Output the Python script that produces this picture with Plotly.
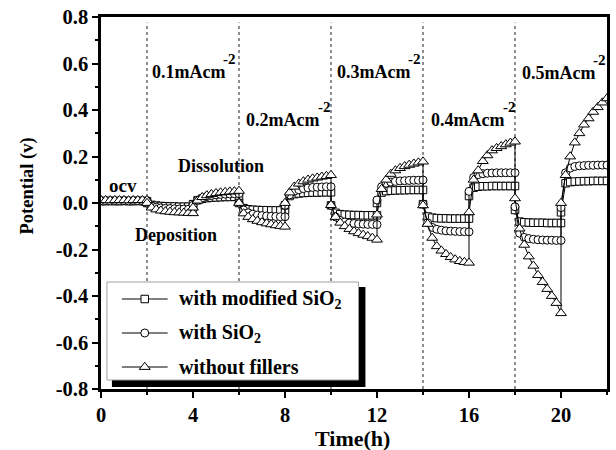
import plotly.graph_objects as go

# ---------------- data ----------------
SEGMENT_STARTS = [0, 2, 4, 6, 8, 10, 12, 14, 16, 18, 20]
STEP_OFFSETS = [0.0, 0.2, 0.4, 0.6, 0.8, 1.0, 1.2, 1.4, 1.6, 1.8, 2.0]

MODIFIED_SIO2 = [
    [0.008, 0.008, 0.009, 0.008, 0.008, 0.009, 0.008, 0.008, 0.009, 0.008, 0.008],
    [0.000, -0.008, -0.011, -0.013, -0.014, -0.015, -0.015, -0.016, -0.016, -0.016, -0.016],
    [-0.005, 0.012, 0.018, 0.021, 0.023, 0.024, 0.025, 0.026, 0.026, 0.027, 0.027],
    [0.000, -0.022, -0.027, -0.029, -0.030, -0.031, -0.031, -0.032, -0.032, -0.032, -0.032],
    [-0.010, 0.030, 0.038, 0.041, 0.043, 0.044, 0.045, 0.045, 0.046, 0.046, 0.046],
    [-0.010, -0.042, -0.048, -0.050, -0.051, -0.052, -0.052, -0.053, -0.053, -0.053, -0.053],
    [0.000, 0.045, 0.051, 0.053, 0.054, 0.055, 0.055, 0.056, 0.056, 0.056, 0.056],
    [-0.005, -0.058, -0.063, -0.065, -0.066, -0.066, -0.067, -0.067, -0.067, -0.067, -0.067],
    [0.030, 0.066, 0.070, 0.072, 0.072, 0.073, 0.073, 0.073, 0.073, 0.073, 0.073],
    [-0.030, -0.080, -0.083, -0.084, -0.085, -0.085, -0.085, -0.086, -0.086, -0.086, -0.086],
    [-0.040, 0.085, 0.090, 0.092, 0.093, 0.094, 0.094, 0.095, 0.095, 0.095, 0.095],
]

WITH_SIO2 = [
    [0.010, 0.010, 0.009, 0.010, 0.010, 0.010, 0.009, 0.010, 0.010, 0.010, 0.010],
    [0.000, -0.012, -0.018, -0.021, -0.023, -0.024, -0.025, -0.026, -0.026, -0.027, -0.027],
    [-0.010, 0.012, 0.022, 0.028, 0.032, 0.035, 0.037, 0.038, 0.039, 0.040, 0.040],
    [0.000, -0.030, -0.042, -0.048, -0.052, -0.054, -0.056, -0.057, -0.058, -0.059, -0.059],
    [-0.010, 0.035, 0.050, 0.057, 0.062, 0.065, 0.067, 0.068, 0.069, 0.070, 0.070],
    [-0.010, -0.060, -0.075, -0.082, -0.086, -0.088, -0.090, -0.091, -0.092, -0.092, -0.093],
    [0.013, 0.070, 0.085, 0.090, 0.093, 0.095, 0.096, 0.097, 0.098, 0.098, 0.099],
    [-0.005, -0.085, -0.105, -0.113, -0.117, -0.120, -0.121, -0.122, -0.123, -0.123, -0.124],
    [0.050, 0.110, 0.122, 0.126, 0.128, 0.129, 0.130, 0.130, 0.130, 0.130, 0.130],
    [-0.016, -0.130, -0.148, -0.153, -0.156, -0.158, -0.159, -0.160, -0.160, -0.161, -0.161],
    [-0.020, 0.130, 0.150, 0.157, 0.160, 0.161, 0.162, 0.162, 0.163, 0.163, 0.163],
]

WITHOUT_FILLERS = [
    [0.012, 0.012, 0.011, 0.012, 0.012, 0.012, 0.011, 0.012, 0.012, 0.012, 0.012],
    [0.000, -0.020, -0.028, -0.033, -0.036, -0.038, -0.040, -0.041, -0.042, -0.043, -0.044],
    [-0.020, 0.010, 0.025, 0.033, 0.038, 0.042, 0.045, 0.047, 0.049, 0.050, 0.052],
    [0.000, -0.045, -0.060, -0.070, -0.077, -0.083, -0.088, -0.092, -0.096, -0.099, -0.102],
    [0.000, 0.045, 0.070, 0.083, 0.093, 0.100, 0.105, 0.109, 0.113, 0.116, 0.120],
    [-0.009, -0.060, -0.085, -0.100, -0.112, -0.122, -0.130, -0.137, -0.143, -0.150, -0.158],
    [-0.050, 0.060, 0.100, 0.125, 0.140, 0.150, 0.158, 0.164, 0.169, 0.174, 0.178],
    [-0.010, -0.090, -0.150, -0.186, -0.205, -0.220, -0.233, -0.243, -0.250, -0.254, -0.257],
    [-0.040, 0.100, 0.140, 0.180, 0.205, 0.226, 0.236, 0.244, 0.252, 0.259, 0.264],
    [0.020, -0.110, -0.180, -0.230, -0.270, -0.310, -0.340, -0.370, -0.400, -0.430, -0.474],
    [0.000, 0.120, 0.200, 0.260, 0.300, 0.337, 0.364, 0.392, 0.412, 0.432, 0.450],
]

SERIES_NAMES = ["with modified SiO<sub>2</sub>", "with SiO<sub>2</sub>", "without fillers"]
STEP_BOUNDARIES = [2, 6, 10, 14, 18]
CURRENT_LABELS = ["0.1mAcm", "0.2mAcm", "0.3mAcm", "0.4mAcm", "0.5mAcm"]
CURRENT_SUPERSCRIPT = "-2"
X_TICKS = [0, 4, 8, 12, 16, 20]
Y_TICKS = [-0.8, -0.6, -0.4, -0.2, 0.0, 0.2, 0.4, 0.6, 0.8]
Y_TICK_LABELS = ["-0.8", "-0.6", "-0.4", "-0.2", "0.0", "0.2", "0.4", "0.6", "0.8"]

# ---------------- layout geometry (pixels) ----------------
FONT = "Liberation Serif, Times New Roman, serif"
PL, PR, PT, PB = 101, 610, 17, 389          # plot area in pixels
X_RANGE = [0, 22]
Y_RANGE = [-0.8, 0.8]

CURRENT_LABEL_PX = [(150, 72), (245, 120), (336, 72), (431, 120), (522, 73)]
SUP_DY = 13
LEGEND_BOX = (107, 282, 360, 380)           # x0, y0, x1, y1
LEGEND_SHADOW = 7
LEGEND_ROWS = [299, 333, 367]
LEGEND_LINE = (122, 168)
LEGEND_TEXT_X = 177


def px_x(px):
    return X_RANGE[0] + (px - PL) / (PR - PL) * (X_RANGE[1] - X_RANGE[0])


def px_y(py):
    return Y_RANGE[1] - (py - PT) / (PB - PT) * (Y_RANGE[1] - Y_RANGE[0])


def flatten(segments):
    xs, ys = [], []
    for start, seg in zip(SEGMENT_STARTS, segments):
        for off, v in zip(STEP_OFFSETS, seg):
            xs.append(start + off)
            ys.append(v)
    return xs, ys


def bold(size):
    return dict(family=FONT, size=size, color="black", weight="bold")


fig = go.Figure()
styles = [("square", 7.5), ("circle", 8), ("triangle-up", 9.5)]
all_series = [MODIFIED_SIO2, WITH_SIO2, WITHOUT_FILLERS]
for name, data, (sym, sz) in zip(SERIES_NAMES, all_series, styles):
    xs, ys = flatten(data)
    fig.add_trace(go.Scatter(
        x=xs, y=ys, mode="lines+markers", name=name, showlegend=False,
        line=dict(color="black", width=1),
        marker=dict(symbol=sym, size=sz, color="white", line=dict(color="black", width=1)),
    ))

# custom legend glyphs on a pixel-space overlay axis
for name, (sym, sz), row in zip(SERIES_NAMES, styles, LEGEND_ROWS):
    fig.add_trace(go.Scatter(
        x=[LEGEND_LINE[0], LEGEND_LINE[1]], y=[row, row], mode="lines",
        xaxis="x2", yaxis="y2", showlegend=False, hoverinfo="skip",
        line=dict(color="black", width=1)))
    fig.add_trace(go.Scatter(
        x=[(LEGEND_LINE[0] + LEGEND_LINE[1]) / 2], y=[row], mode="markers",
        xaxis="x2", yaxis="y2", showlegend=False, hoverinfo="skip",
        marker=dict(symbol=sym, size=sz, color="white", line=dict(color="black", width=1))))

shapes = []
for b in STEP_BOUNDARIES:
    shapes.append(dict(type="line", xref="x", yref="paper", x0=b, x1=b, y0=0, y1=0.985,
                       line=dict(color="#444", width=1.2, dash="dot"), layer="below"))
bx0, by0, bx1, by1 = LEGEND_BOX
shapes.append(dict(type="rect", xref="x", yref="y",
                   x0=px_x(bx0 + 5), x1=px_x(bx1 + LEGEND_SHADOW),
                   y0=px_y(by1 + LEGEND_SHADOW), y1=px_y(by0 + 5),
                   fillcolor="black", line=dict(width=0), layer="below"))
shapes.append(dict(type="rect", xref="x", yref="y",
                   x0=px_x(bx0), x1=px_x(bx1), y0=px_y(by1), y1=px_y(by0),
                   fillcolor="white", line=dict(color="#a0a0a0", width=1), layer="below"))

annotations = []
for lab, (lx, ly) in zip(CURRENT_LABELS, CURRENT_LABEL_PX):
    annotations.append(dict(x=lx, y=ly, xref="x2", yref="y2", xanchor="left", yanchor="middle",
                            text=lab, showarrow=False, font=bold(18)))
    annotations.append(dict(x=lx + 72, y=ly - SUP_DY, xref="x2", yref="y2", xanchor="left",
                            yanchor="middle", text=CURRENT_SUPERSCRIPT, showarrow=False,
                            font=bold(15)))
for name, row in zip(SERIES_NAMES, LEGEND_ROWS):
    annotations.append(dict(x=LEGEND_TEXT_X, y=row, xref="x2", yref="y2", xanchor="left",
                            yanchor="middle", text=name, showarrow=False, font=bold(20)))
annotations += [
    dict(x=107, y=185, xref="x2", yref="y2", xanchor="left", yanchor="middle", text="ocv",
         showarrow=False, font=bold(19)),
    dict(x=222, y=166, xref="x2", yref="y2", xanchor="center", yanchor="middle",
         text="Dissolution", showarrow=False, font=bold(18)),
    dict(x=176, y=235, xref="x2", yref="y2", xanchor="center", yanchor="middle",
         text="Deposition", showarrow=False, font=bold(18)),
    dict(x=(354 - PL) / (PR - PL), y=1 - (438 - PT) / (PB - PT), xref="paper", yref="paper",
         xanchor="center", yanchor="middle", text="Time(h)", showarrow=False, font=bold(22)),
    dict(x=(27 - PL) / (PR - PL), y=1 - (186 - PT) / (PB - PT), xref="paper", yref="paper",
         xanchor="center", yanchor="middle", text="Potential (v)", textangle=-90,
         showarrow=False, font=bold(18.5)),
]

axis_common = dict(ticks="outside", ticklen=6, tickwidth=2, tickcolor="black",
                   showline=True, linewidth=2.5, linecolor="black", mirror=True,
                   showgrid=False, zeroline=False, tickfont=bold(20.5))

fig.update_layout(
    width=616, height=450,
    margin=dict(l=PL, r=616 - PR, t=PT, b=450 - PB),
    paper_bgcolor="white", plot_bgcolor="white",
    showlegend=False,
    shapes=shapes, annotations=annotations,
    xaxis=dict(range=X_RANGE, tickvals=X_TICKS,
               minor=dict(dtick=2, ticks="outside", ticklen=3, tickwidth=1.5, tickcolor="black"),
               **axis_common),
    yaxis=dict(range=Y_RANGE, tickvals=Y_TICKS, ticktext=Y_TICK_LABELS,
               minor=dict(dtick=0.1, ticks="outside", ticklen=3, tickwidth=1.5, tickcolor="black"),
               **axis_common),
    xaxis2=dict(range=[PL, PR], overlaying="x", visible=False, fixedrange=True),
    yaxis2=dict(range=[PB, PT], overlaying="y", visible=False, fixedrange=True),
)

fig.write_html("out.html")
